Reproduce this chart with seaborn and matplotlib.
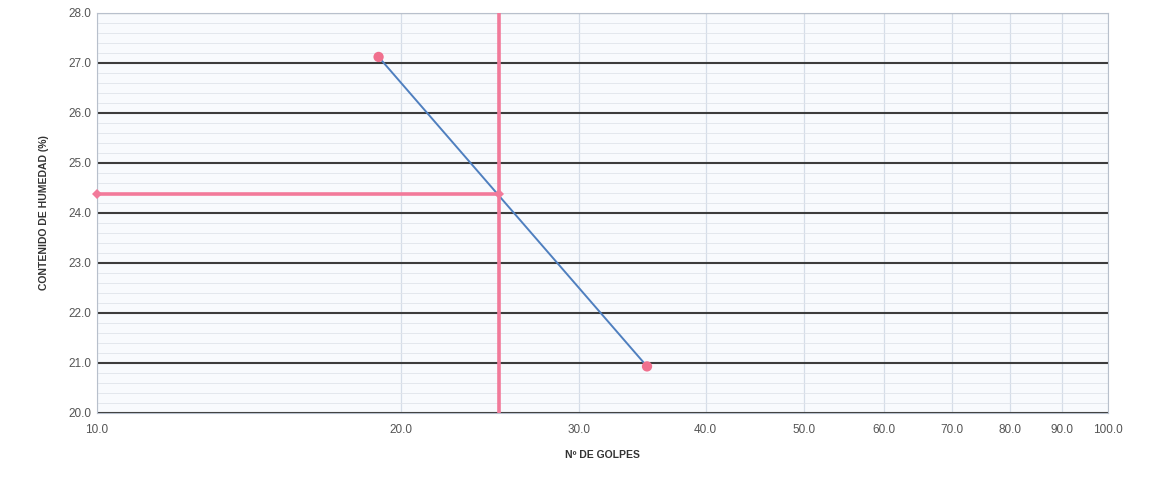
import matplotlib
matplotlib.use("Agg")
import matplotlib.pyplot as plt
import matplotlib.ticker as mticker
import numpy as np
import pandas as pd
import seaborn as sns

# ensayo de limite liquido
golpes = [19.0, 35.0]
humedad = [27.12, 20.93]
golpes_ref = [10.0, 25.0]
humedad_ref = [24.38, 24.38]
linea_25_x = [25.0, 25.0]
linea_25_y = [20.0, 28.0]
x_ticks = [10, 20, 30, 40, 50, 60, 70, 80, 90, 100]
y_ticks = [20, 21, 22, 23, 24, 25, 26, 27, 28]

sns.set_style("white")
plt.rcParams['font.family'] = ['Liberation Sans', 'DejaVu Sans']

fig, ax = plt.subplots(figsize=(11.63, 4.79), dpi=100)
fig.subplots_adjust(left=0.083, right=0.953, top=0.973, bottom=0.138)
ax.set_facecolor("#f8fafd")

ax.set_xscale("log")
ax.set_xlim(10, 100)
ax.set_ylim(20, 28)

# grid
ax.set_yticks(y_ticks)
ax.yaxis.set_minor_locator(mticker.MultipleLocator(0.2))
ax.set_xticks(x_ticks)
ax.xaxis.set_minor_locator(mticker.NullLocator())
ax.xaxis.set_major_formatter(mticker.FuncFormatter(lambda v, p: f"{v:.1f}"))
ax.yaxis.set_major_formatter(mticker.FuncFormatter(lambda v, p: f"{v:.1f}"))
ax.grid(which="minor", axis="y", color="#e0e4ea", linewidth=0.6)
ax.grid(which="major", axis="x", color="#d5dde8", linewidth=0.9)
ax.grid(which="major", axis="y", color="#3c3c3c", linewidth=1.5)
ax.set_axisbelow(True)

df = pd.DataFrame({"golpes": golpes, "humedad": humedad})
sns.lineplot(data=df, x="golpes", y="humedad", ax=ax, color="#4f7fbf",
             linewidth=1.4, zorder=3)

ref = pd.DataFrame({"x": golpes_ref, "y": humedad_ref})
sns.lineplot(data=ref, x="x", y="y", ax=ax, color="#f27a9a", linewidth=2.6,
             marker="D", markersize=5, markeredgewidth=0, zorder=4, clip_on=False)
v = pd.DataFrame({"x": linea_25_x, "y": linea_25_y})
sns.lineplot(data=v, x="x", y="y", ax=ax, color="#f27a9a", linewidth=2.6,
             orient="y", zorder=4)

sns.scatterplot(data=df, x="golpes", y="humedad", ax=ax, color="#f0708e",
                s=55, edgecolor="none", zorder=5, clip_on=False)

ax.tick_params(axis="both", which="both", length=0, labelsize=8.5,
               colors="#555555")
ax.tick_params(axis="x", pad=8)
ax.set_xlabel("Nº DE GOLPES", fontsize=7.5, fontweight="bold",
              color="#333333", labelpad=10)
ax.set_ylabel("CONTENIDO DE HUMEDAD (%)", fontsize=7.5, fontweight="bold",
              color="#333333", labelpad=14)

for s in ax.spines.values():
    s.set_color("#b8c0cc")
    s.set_linewidth(0.8)

fig.savefig("out.png", dpi=100)
plt.close(fig)
